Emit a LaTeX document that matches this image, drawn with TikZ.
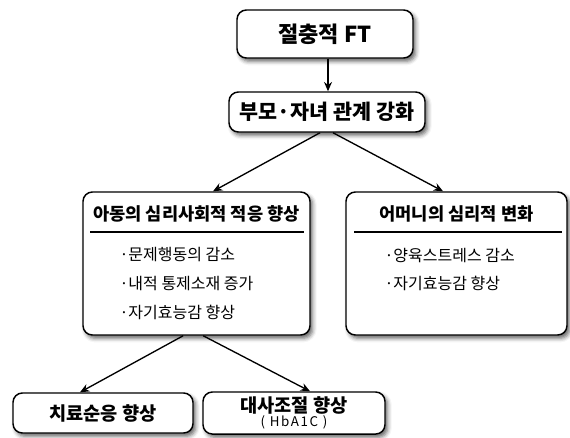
\documentclass[tikz,border=0pt]{standalone}
\usepackage{fontspec}
\setmainfont{Noto Sans CJK KR}
\usetikzlibrary{arrows.meta,shadows.blur}

\tikzset{every picture/.style={line width=0.75pt}}
\tikzset{
  boxshape/.style={draw, line width=1.1pt, rounded corners=7pt, fill=white,
    blur shadow={shadow xshift=2pt, shadow yshift=-2.5pt, shadow blur radius=3pt, shadow opacity=60}},
  headtxt/.style={inner sep=0.75pt, font=\bfseries\fontsize{13.2}{16}\selectfont},
  itemtxt/.style={anchor=west, inner sep=0.75pt, font=\fontsize{12}{14}\selectfont},
  flow/.style={line width=1pt, -{Stealth[length=7pt,width=6pt]}}
}

\begin{document}
\begin{tikzpicture}[x=0.75pt,y=0.75pt,yscale=-1,xscale=1]
	\useasboundingbox (0,0) rectangle (570,437);
	
	%Rounded Rect [id:top]
	\node [boxshape, minimum width=132pt, minimum height=36pt, font=\bfseries\fontsize{16.5}{18}\selectfont] (ft) at (325,34) {절충적 FT};
	%Rounded Rect [id:rel]
	\node [boxshape, minimum width=147pt, minimum height=30pt, font=\bfseries\fontsize{15.5}{18}\selectfont] (rel) at (327,112) {부모·자녀 관계 강화};
	%Rounded Rect [id:child]
	\node [boxshape, minimum width=170.25pt, minimum height=107.25pt] (child) at (196.5,263.5) {};
	%Rounded Rect [id:mother]
	\node [boxshape, minimum width=165.75pt, minimum height=107.25pt] (mother) at (456.5,263.5) {};
	%Rounded Rect [id:adhere]
	\node [boxshape, minimum width=135pt, minimum height=30pt, font=\bfseries\fontsize{14}{16}\selectfont] (adhere) at (103,413) {치료순응 향상};
	%Rounded Rect [id:meta]
	\node [boxshape, minimum width=136.5pt, minimum height=30pt, align=center, font=\bfseries\fontsize{14}{13}\selectfont] (meta) at (294,413) {대사조절 향상\\[-2pt]{\mdseries\fontsize{10}{9}\selectfont\addfontfeature{LetterSpace=12}(\ HbA1C\ )}};
	
	% Text Node
	\node [headtxt] (childhead) at (196.5,214) {아동의 심리사회적 적응 향상};
	% Text Node
	\node [headtxt] (motherhead) at (456.5,214) {어머니의 심리적 변화};
	%Straight Lines
	\draw [line width=1pt] (90,232) -- (304,232) ;
	\draw [line width=1pt] (354,232) -- (562,232) ;
	
	% Text Node
	\node [itemtxt] (c1) at (118,255) {·문제행동의 감소};
	% Text Node
	\node [itemtxt] (c2) at (118,283.5) {·내적 통제소재 증가};
	% Text Node
	\node [itemtxt] (c3) at (118,312) {·자기효능감 향상};
	% Text Node
	\node [itemtxt] (m1) at (383,255) {·양육스트레스 감소};
	% Text Node
	\node [itemtxt] (m2) at (383,283.5) {·자기효능감 향상};
	
	%Arrows
	\draw [flow] (ft.south -| 328,0) -- (rel.north -| 328,0) ;
	\draw [flow] ([xshift=-5.25pt]rel.south) -- ([xshift=12.4pt]child.north) ;
	\draw [flow] ([xshift=4.5pt]rel.south) -- ([xshift=-10.1pt]mother.north) ;
	\draw [flow] ([xshift=-10pt]child.south) -- ([xshift=-17.25pt]adhere.north) ;
	\draw [flow] ([xshift=5pt]child.south) -- ([xshift=12pt]meta.north) ;
	
\end{tikzpicture}
\end{document}
